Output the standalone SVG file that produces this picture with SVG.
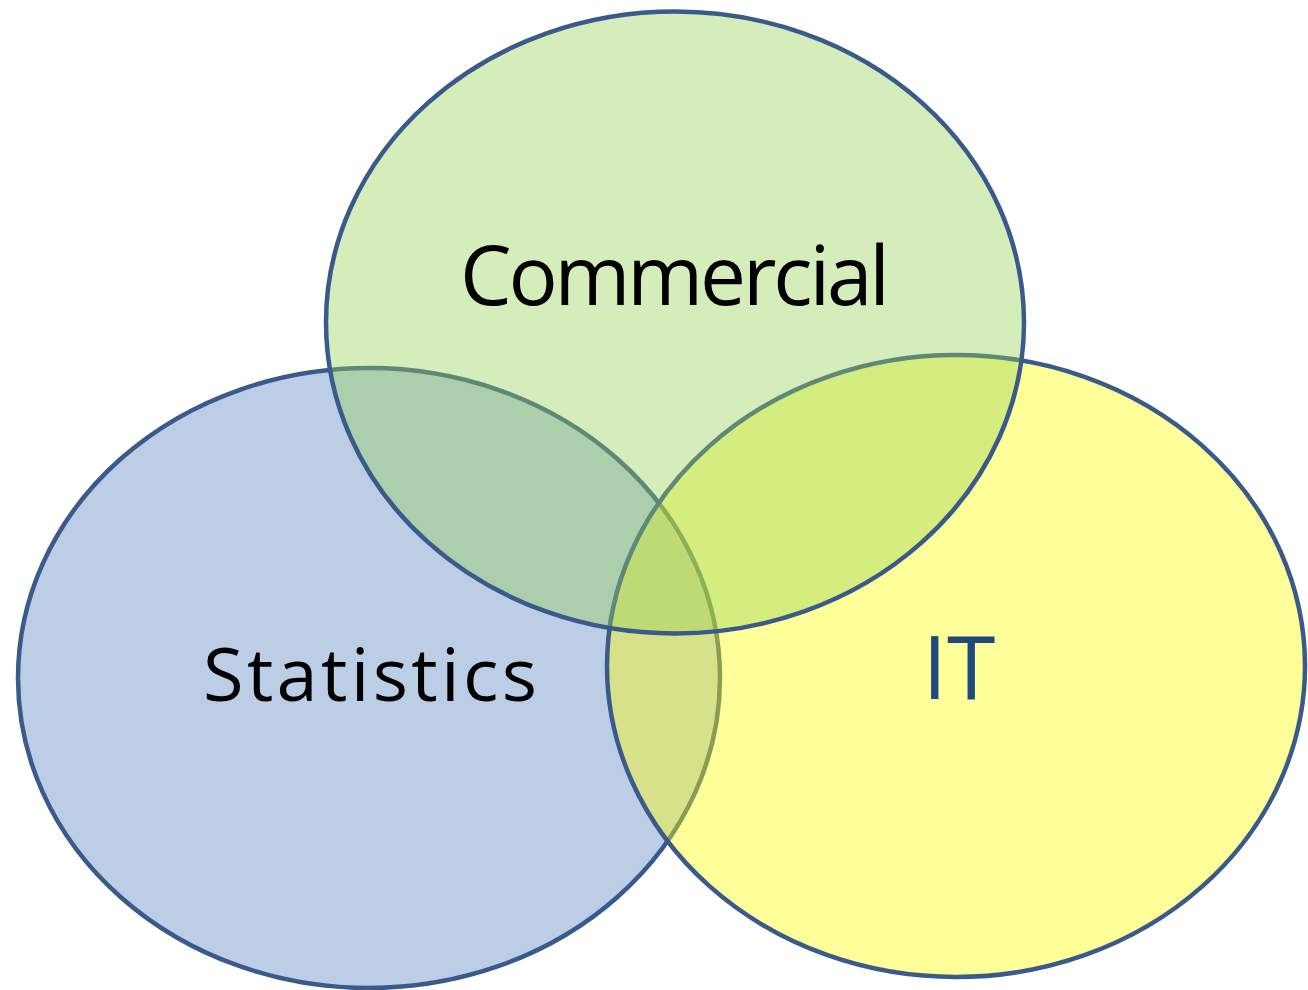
<svg xmlns="http://www.w3.org/2000/svg" width="1308" height="990" viewBox="0 0 1308 990">
<style>
.set{stroke:#3a5a8c;stroke-width:4.5;fill-opacity:0.4}
.lbl{font-family:"Open Sans","DejaVu Sans",sans-serif;text-anchor:middle}
</style>
<rect width="1308" height="990" fill="#ffffff"/>
<g id="statistics">
<ellipse class="set" cx="369" cy="678" rx="351" ry="310" fill="#5882c1"/>
</g>
<g id="it">
<ellipse class="set" cx="956" cy="666" rx="349" ry="311" fill="#ffff00"/>
</g>
<g id="commercial">
<ellipse class="set" cx="675" cy="322.5" rx="349" ry="311" fill="#96cf55"/>
</g>
<g id="connectors"></g>
<g id="labels">
<text class="lbl" x="675" y="305" font-size="82" textLength="430" lengthAdjust="spacing" fill="#000000">Commercial</text>
<text class="lbl" x="370" y="701" font-size="74" textLength="334" lengthAdjust="spacing" fill="#000000">Statistics</text>
<text class="lbl" x="959" y="699" font-size="88" fill="#1f497d">IT</text>
</g>
</svg>
